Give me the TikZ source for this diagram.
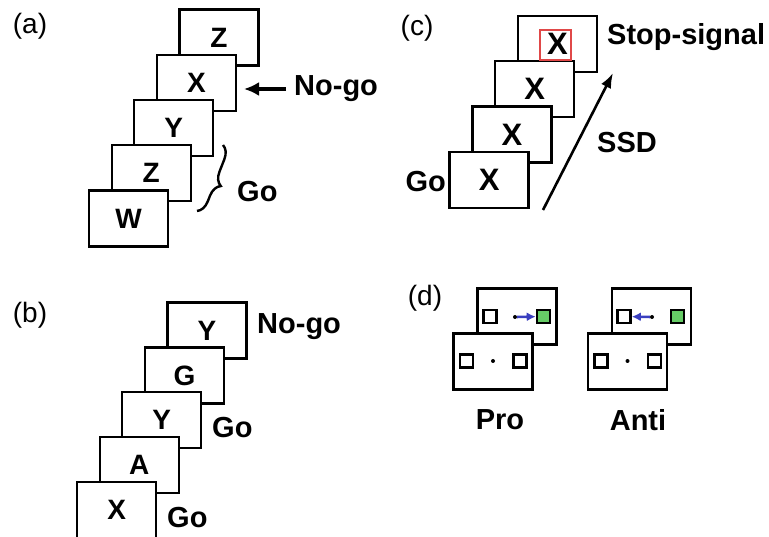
\documentclass[tikz,border=0pt]{standalone}
\usepackage{fontspec}
\setmainfont{Liberation Sans}
\usetikzlibrary{arrows.meta,positioning,decorations.pathreplacing}
\definecolor{stopred}{HTML}{E04848}
\definecolor{saccblue}{HTML}{3A3FC0}
\definecolor{targetgreen}{HTML}{66CC66}

\begin{document}
\begin{tikzpicture}[x=1pt, y=-1pt,
        card/.style={draw, fill=white, line width=2.3pt, minimum width=79pt,
            minimum height=56pt, inner sep=0pt, font=\fontsize{28}{28}\selectfont\bfseries},
        bigcard/.style={card, font=\fontsize{31}{31}\selectfont\bfseries},
        cue/.style={font=\fontsize{29}{29}\selectfont\bfseries, inner sep=0pt},
        panel/.style={font=\fontsize{28}{28}\selectfont, inner sep=0pt},
        place/.style={draw, line width=2.6pt, minimum size=13pt, inner sep=0pt},
        fixdot/.style={circle, fill=black, inner sep=0pt, minimum size=4pt},
        saccade/.style={-{Latex[length=9pt,width=9pt]}, saccblue, line width=2.6pt}
    ]
    \useasboundingbox (0,0) rectangle (769,537);

    % ============ (a) go/no-go, letter sequence ============
    \node[panel] (labA) at (30,26) {(a)};
    \foreach \lt [count=\i from 0] in {Z,X,Y,Z,W}
    \node[card] (a\i) at ({219-22.6*\i},{37.5+45.25*\i}) {\lt};

    \node[cue, anchor=west] (nogoA) at (294,89) {No-go};
    \coordinate (nogoTip) at (244,89);
    \draw[-{Latex[length=15pt,width=14pt]}, line width=3.2pt, shorten <=8pt]
    (nogoA.west) -- (nogoTip);

    \coordinate (braceTop) at (223,145);
    \coordinate (braceBot) at (197,211);
    \draw[line width=2.4pt, decorate, decoration={brace, amplitude=13pt, aspect=0.55}]
    (braceTop) -- (braceBot);
    \node[cue, anchor=west] (goA) at (237,192) {Go};

    % ============ (b) go/no-go, repeated letter ============
    \node[panel] (labB) at (30,315) {(b)};
    \foreach \lt [count=\i from 0] in {Y,G,Y,A,X}
    \node[card] (b\i) at ({207-22.6*\i},{330.5+44.9*\i}) {\lt};
    \node[cue, anchor=west] (nogoB) at (257,327) {No-go};
    \node[cue, anchor=west] (goB) at (212,428) {Go};
    \node[cue, anchor=west] (goBB) at (167,518) {Go};

    % ============ (c) stop-signal ============
    \node[panel] (labC) at (417,28) {(c)};
    \foreach \i in {0,...,3}
    \node[bigcard] (c\i) at ({557.5-22.8*\i},{44+45.3*\i}) {X};
    \node[draw=stopred, line width=1.8pt, minimum width=31pt, minimum height=30pt,
        inner sep=0pt] (stopbox) at (555.5,45) {};
    \node[cue, anchor=west] (stopLbl) at (607,37) {Stop-signal};
    \node[cue, anchor=east] (goC) at (446,182) {Go};

    \coordinate (ssdStart) at (543,210);
    \coordinate (ssdEnd) at (613,73);
    \draw[-{Latex[length=15pt,width=11pt]}, line width=2.6pt] (ssdStart) -- (ssdEnd);
    \node[cue, anchor=west] (ssdLbl) at (597,143) {SSD};

    % ============ (d) pro/anti saccade ============
    \node[panel] (labD) at (425,298) {(d)};

    % pro: look toward the target
    \node[card] (proBack) at (517,316.5) {};
    \node[place] (proBackL) at (490,316.5) {};
    \node[place, fill=targetgreen] (proBackR) at (543.5,316.5) {};
    \node[fixdot] (proBackFix) at (515,317) {};
    \draw[saccade] (proBackFix) -- (proBackR);
    \node[card] (proFront) at (493,361.5) {};
    \node[place] (proFrontL) at (466.5,361) {};
    \node[place] (proFrontR) at (520,361) {};
    \node[fixdot] (proFrontFix) at (493,361) {};
    \node[cue] (proLbl) at (500,420) {Pro};

    % anti: look away from the target
    \node[card] (antiBack) at (651.5,316.5) {};
    \node[place] (antiBackL) at (624,316.5) {};
    \node[place, fill=targetgreen] (antiBackR) at (677.5,316.5) {};
    \node[fixdot] (antiBackFix) at (652,317) {};
    \draw[saccade] (antiBackFix) -- (antiBackL);
    \node[card] (antiFront) at (627.5,361.5) {};
    \node[place] (antiFrontL) at (601,361) {};
    \node[place] (antiFrontR) at (654.5,361) {};
    \node[fixdot] (antiFrontFix) at (627.5,361) {};
    \node[cue] (antiLbl) at (638,420) {Anti};
\end{tikzpicture}
\end{document}
